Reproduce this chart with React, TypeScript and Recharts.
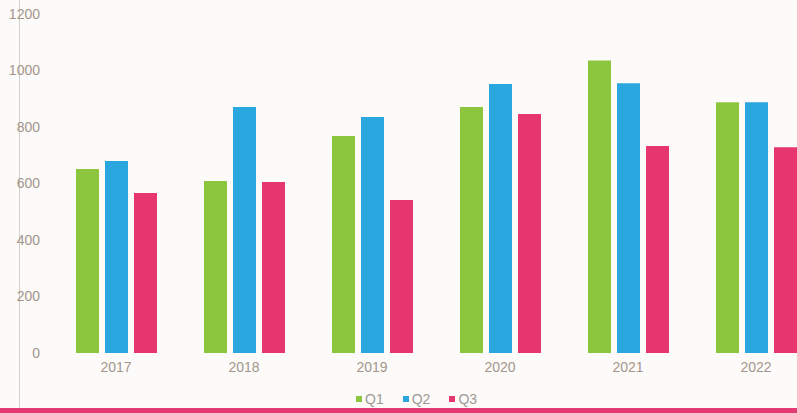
import React from "react"
import { BarChart, Bar, XAxis, YAxis, Legend } from "recharts"

const years = ["2017", "2018", "2019", "2020", "2021", "2022"]
const q1 = [651, 609, 768, 871, 1035, 888]
const q2 = [680, 871, 835, 952, 955, 888]
const q3 = [566, 605, 542, 846, 733, 728]
const yTicks = [0, 200, 400, 600, 800, 1000, 1200]

const series = [
  { key: "Q1", values: q1, color: "#8cc63f" },
  { key: "Q2", values: q2, color: "#2aa7de" },
  { key: "Q3", values: q3, color: "#e73570" },
]

const data = years.map((year, i) => ({
  year,
  Q1: q1[i],
  Q2: q2[i],
  Q3: q3[i],
}))

const tickStyle = { fill: "#a3958c", fontSize: 14, fontFamily: "Liberation Sans, Arial, sans-serif" }

function LegendRow({ payload }: { payload?: any[] }) {
  return (
    <div style={{ display: "flex", alignItems: "center", fontFamily: "Liberation Sans, Arial, sans-serif", fontSize: 14, color: "#a09a96" }}>
      {(payload || []).map((p) => (
        <div key={p.value} style={{ display: "flex", alignItems: "center", marginRight: 19 }}>
          <span style={{ display: "inline-block", width: 6, height: 6, background: p.color, marginRight: 3 }} />
          <span>{p.value}</span>
        </div>
      ))}
    </div>
  )
}

export default function App() {
  return (
    <div style={{ position: "absolute", left: 0, top: 0, width: 797, height: 413, overflow: "hidden", background: "#fcfbf9" }}>
      <div style={{ position: "absolute", left: 19, top: 0, width: 1, height: 408, background: "#d4d0cc" }} />
      <BarChart
        width={830}
        height={413}
        data={data}
        margin={{ top: 14, right: 10, bottom: 0, left: 0 }}
        barCategoryGap={24}
        barGap={6}
      >
        <YAxis
          width={52}
          domain={[0, 1200]}
          ticks={yTicks}
          axisLine={false}
          tickLine={false}
          tickSize={0}
          tickMargin={12}
          tick={tickStyle}
        />
        <XAxis
          dataKey="year"
          height={30}
          axisLine={false}
          tickLine={false}
          tickSize={0}
          tickMargin={9}
          tick={tickStyle}
        />
        <Legend
          verticalAlign="bottom"
          height={30}
          content={<LegendRow />}
          wrapperStyle={{ left: 356, top: 391, width: 220 }}
        />
        {series.map((s) => (
          <Bar key={s.key} dataKey={s.key} fill={s.color} isAnimationActive={false} />
        ))}
      </BarChart>
      <div style={{ position: "absolute", left: 0, bottom: 0, width: 797, height: 5, background: "#e33a74" }} />
    </div>
  )
}
